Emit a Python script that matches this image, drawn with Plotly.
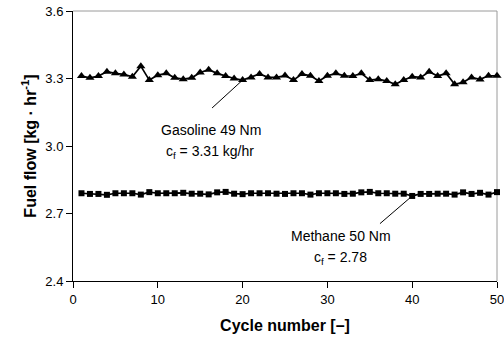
import plotly.graph_objects as go

cycles = list(range(1, 51))
gasoline = [3.311, 3.303, 3.311, 3.330, 3.323, 3.318, 3.308, 3.355, 3.293, 3.315,
            3.323, 3.303, 3.297, 3.303, 3.327, 3.339, 3.323, 3.311, 3.300, 3.293,
            3.305, 3.320, 3.305, 3.305, 3.313, 3.293, 3.320, 3.312, 3.289, 3.312,
            3.323, 3.312, 3.311, 3.323, 3.293, 3.297, 3.289, 3.274, 3.293, 3.308,
            3.305, 3.330, 3.311, 3.323, 3.274, 3.283, 3.305, 3.296, 3.312, 3.312]
methane = [2.790, 2.787, 2.787, 2.783, 2.790, 2.790, 2.790, 2.784, 2.795, 2.790,
           2.790, 2.790, 2.792, 2.788, 2.788, 2.785, 2.794, 2.796, 2.788, 2.786,
           2.790, 2.790, 2.790, 2.788, 2.787, 2.790, 2.790, 2.784, 2.790, 2.790,
           2.790, 2.787, 2.788, 2.794, 2.796, 2.790, 2.790, 2.788, 2.788, 2.778,
           2.787, 2.787, 2.788, 2.788, 2.784, 2.794, 2.787, 2.792, 2.784, 2.795]
x_ticks = [0, 10, 20, 30, 40, 50]
y_ticks = [2.4, 2.7, 3.0, 3.3, 3.6]

FONT = "Liberation Sans, Arial, sans-serif"

fig = go.Figure()
fig.add_trace(go.Scatter(x=cycles, y=gasoline, mode="lines+markers",
                         line=dict(color="black", width=1.7),
                         marker=dict(symbol="triangle-up", size=8, color="black"),
                         name="Gasoline 49 Nm", cliponaxis=False))
fig.add_trace(go.Scatter(x=cycles, y=methane, mode="lines+markers",
                         line=dict(color="black", width=1.7),
                         marker=dict(symbol="square", size=6, color="black"),
                         name="Methane 50 Nm", cliponaxis=False))

# leader lines
fig.add_shape(type="line", x0=20, y0=gasoline[19], x1=16.4, y1=3.169,
              line=dict(color="black", width=1))
fig.add_shape(type="line", x0=40, y0=methane[39], x1=36.2, y1=2.655,
              line=dict(color="black", width=1))
# top/right frame
fig.add_shape(type="line", xref="paper", yref="paper", x0=0, y0=1, x1=1, y1=1,
              line=dict(color="#9a9a9a", width=1), layer="below")
fig.add_shape(type="line", xref="paper", yref="paper", x0=1, y0=0, x1=1, y1=1,
              line=dict(color="#9a9a9a", width=1), layer="below")

ann_font = dict(family=FONT, size=14, color="black")
fig.add_annotation(x=16.3, y=3.071, text="Gasoline 49 Nm", showarrow=False, font=ann_font)
fig.add_annotation(x=16.2, y=2.975, text="c<sub>f</sub> = 3.31 kg/hr", showarrow=False, font=ann_font)
fig.add_annotation(x=31.65, y=2.598, text="Methane 50 Nm", showarrow=False, font=ann_font)
fig.add_annotation(x=31.6, y=2.504, text="c<sub>f</sub> = 2.78", showarrow=False, font=ann_font)

fig.update_layout(
    width=504, height=342,
    margin=dict(l=73, r=7, t=11, b=61),
    paper_bgcolor="white", plot_bgcolor="white",
    showlegend=False,
    font=dict(family=FONT, size=12, color="black"),
    xaxis=dict(range=[0, 50], tickvals=x_ticks, ticktext=[str(v) for v in x_ticks],
               showgrid=False, zeroline=False, showline=True, linecolor="black", linewidth=1,
               ticks="outside", ticklen=6, tickcolor="black", automargin=False,
               tickfont=dict(size=13), ticklabeloverflow="allow",
               title=dict(text="<b>Cycle number [–]</b>", font=dict(size=16), standoff=14)),
    yaxis=dict(range=[2.4, 3.6], tickvals=y_ticks, ticktext=["%.1f" % v for v in y_ticks],
               showgrid=False, zeroline=False, showline=True, linecolor="black", linewidth=1,
               ticks="outside", ticklen=6, tickcolor="black", automargin=False,
               tickfont=dict(size=13), ticklabeloverflow="allow",
               title=dict(text="<b>Fuel flow [kg · hr<sup>-1</sup>]</b>", font=dict(size=16), standoff=4)),
)

fig.write_html("out.html", config={"displayModeBar": False},
               post_script="document.body.style.margin='0';document.body.style.overflow='hidden';")
